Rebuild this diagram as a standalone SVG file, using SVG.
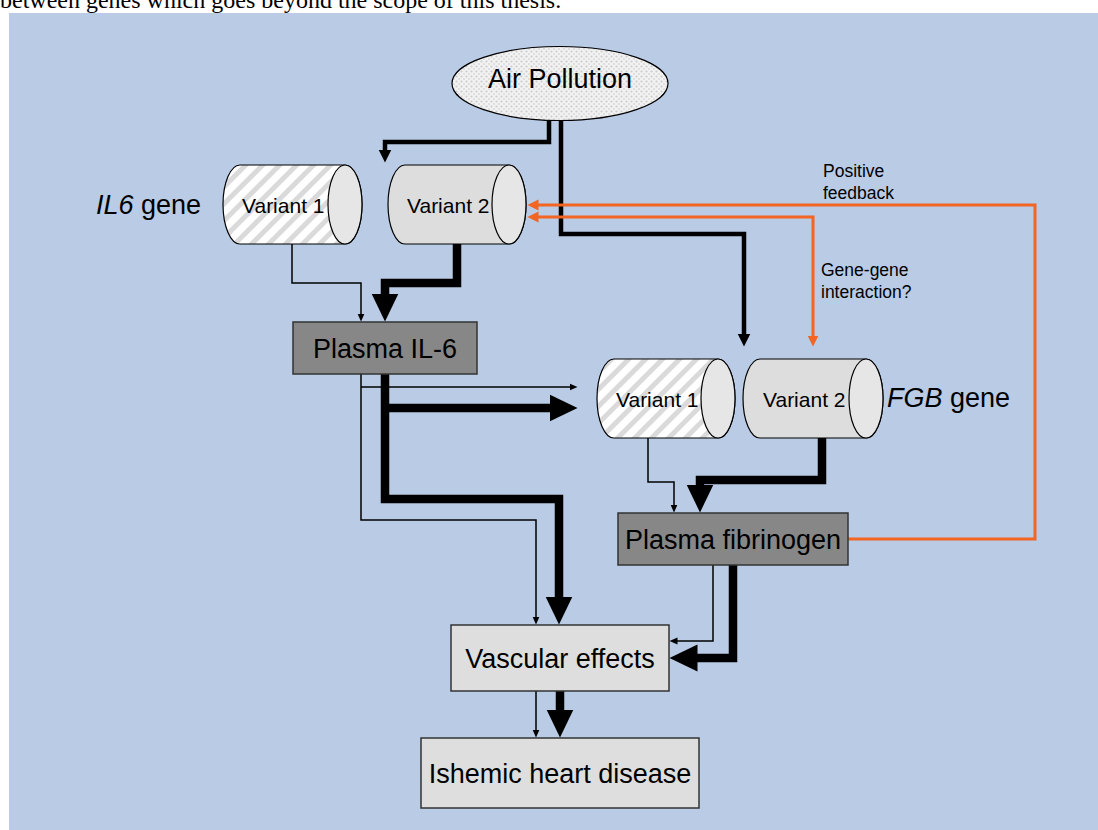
<svg xmlns="http://www.w3.org/2000/svg" width="1098" height="830" viewBox="0 0 1098 830">
<style>
.lbl{font-family:"Liberation Sans",Arial,sans-serif;fill:#000}
.big{font-size:27px}
.var{font-size:21px}
.small{font-size:17.5px}
.cyl{stroke:#000;stroke-width:1.2}
.cap{fill:#E6E6E6;stroke:#000;stroke-width:1.2}
.box{stroke:#333;stroke-width:1.5}
.k{fill:none;stroke:#000;stroke-linejoin:miter}
.thin{stroke-width:1.5}
.med{stroke-width:4.5}
.thick{stroke-width:8.5}
.or{fill:none;stroke:#F26522;stroke-width:3}
</style>
<defs>
<pattern id="hatch" width="12" height="12" patternUnits="userSpaceOnUse" patternTransform="rotate(45)">
<rect width="12" height="12" fill="#FFFFFF"/>
<rect x="0" y="0" width="5" height="12" fill="#DADADA"/>
</pattern>
<pattern id="dots" width="5" height="5" patternUnits="userSpaceOnUse">
<rect width="5" height="5" fill="#F2F2F2"/>
<circle cx="1.5" cy="1.5" r="1.1" fill="#CCCCCC"/>
<circle cx="4" cy="4" r="0.9" fill="#D6D6D6"/>
</pattern>
<marker id="aThin" markerUnits="userSpaceOnUse" markerWidth="10" markerHeight="10" viewBox="0 -5 10 10" refX="0.5" refY="0" orient="auto">
<path d="M0,-3.5 L8,0 L0,3.5 Z" fill="#000"/>
</marker>
<marker id="aMed" markerUnits="userSpaceOnUse" markerWidth="16" markerHeight="16" viewBox="0 -8 16 16" refX="0.5" refY="0" orient="auto">
<path d="M0,-6.5 L13,0 L0,6.5 Z" fill="#000"/>
</marker>
<marker id="aThick" markerUnits="userSpaceOnUse" markerWidth="30" markerHeight="30" viewBox="0 -15 30 30" refX="0.5" refY="0" orient="auto">
<path d="M0,-13.5 L28,0 L0,13.5 Z" fill="#000"/>
</marker>
<marker id="aOr" markerUnits="userSpaceOnUse" markerWidth="14" markerHeight="14" viewBox="0 -7 14 14" refX="0.5" refY="0" orient="auto-start-reverse">
<path d="M0,-5.5 L11,0 L0,5.5 Z" fill="#F26522"/>
</marker>
</defs>

<text x="0" y="8" style="font-family:'Liberation Serif','Times New Roman',serif;font-size:24px" fill="#000">between genes which goes beyond the scope of this thesis.</text>
<rect x="9" y="13" width="1089" height="817" fill="#B9CBE5"/>

<g id="connectors">
<path class="k med" d="M549,120 V142 H385 V150" marker-end="url(#aMed)"/>
<path class="k med" d="M561,120 V234 H744 V334" marker-end="url(#aMed)"/>
<path class="or" d="M848,539 H1035 V205 H538" marker-end="url(#aOr)"/>
<path class="or" d="M538,217 H813 V336" marker-start="url(#aOr)" marker-end="url(#aOr)"/>
<path class="k thin" d="M292,244 V283 H361 V314" marker-end="url(#aThin)"/>
<path class="k thick" d="M457,244 V283 H385 V294" marker-end="url(#aThick)"/>
<path class="k thin" d="M361,387 H570" marker-end="url(#aThin)"/>
<path class="k thin" d="M361,374 V520 H536 V617" marker-end="url(#aThin)"/>
<path class="k thick" d="M385,408 H550" marker-end="url(#aThick)"/>
<path class="k thick" d="M385,374 V499 H559 V597" marker-end="url(#aThick)"/>
<path class="k thin" d="M648,438 V482 H674 V505" marker-end="url(#aThin)"/>
<path class="k thick" d="M822,438 V480 H700 V485" marker-end="url(#aThick)"/>
<path class="k thin" d="M713,565 V641 H677" marker-end="url(#aThin)"/>
<path class="k thick" d="M733,565 V658 H697" marker-end="url(#aThick)"/>
<path class="k thin" d="M536,691 V730" marker-end="url(#aThin)"/>
<path class="k thick" d="M560,691 V710" marker-end="url(#aThick)"/>
</g>

<g id="air-pollution">
<ellipse cx="560" cy="83.5" rx="108" ry="37" fill="url(#dots)" stroke="#000" stroke-width="1.2"/>
<text class="lbl big" x="560" y="88" text-anchor="middle">Air Pollution</text>
</g>

<g id="il6-label">
<text class="lbl big" x="96" y="214"><tspan font-style="italic">IL6</tspan> gene</text>
</g>

<g id="il6-variant1">
<path class="cyl" fill="url(#hatch)" d="M240,165 H345 A17,39.5 0 0 1 345,244 H240 A17,39.5 0 0 1 240,165 Z"/>
<text class="lbl var" x="242" y="213">Variant 1</text>
<ellipse class="cap" cx="345" cy="204.5" rx="17" ry="39.5"/>
</g>

<g id="il6-variant2">
<path class="cyl" fill="#DDDDDD" d="M405,165 H509 A17,39.5 0 0 1 509,244 H405 A17,39.5 0 0 1 405,165 Z"/>
<text class="lbl var" x="407" y="213">Variant 2</text>
<ellipse class="cap" cx="509" cy="204.5" rx="17" ry="39.5"/>
</g>

<g id="plasma-il6">
<rect class="box" x="293" y="322" width="184" height="52" fill="#878787"/>
<text class="lbl big" x="385" y="358" text-anchor="middle">Plasma IL-6</text>
</g>

<g id="fgb-variant1">
<path class="cyl" fill="url(#hatch)" d="M614,359 H718 A17,39.5 0 0 1 718,438 H614 A17,39.5 0 0 1 614,359 Z"/>
<text class="lbl var" x="616" y="407">Variant 1</text>
<ellipse class="cap" cx="718" cy="398.5" rx="17" ry="39.5"/>
</g>

<g id="fgb-variant2">
<path class="cyl" fill="#DDDDDD" d="M760,359 H866 A17,39.5 0 0 1 866,438 H760 A17,39.5 0 0 1 760,359 Z"/>
<text class="lbl var" x="763" y="407">Variant 2</text>
<ellipse class="cap" cx="866" cy="398.5" rx="17" ry="39.5"/>
</g>

<g id="fgb-label">
<text class="lbl big" x="887" y="407"><tspan font-style="italic">FGB</tspan> gene</text>
</g>

<g id="plasma-fibrinogen">
<rect class="box" x="618" y="513" width="230" height="52" fill="#878787"/>
<text class="lbl big" x="733" y="549" text-anchor="middle">Plasma fibrinogen</text>
</g>

<g id="vascular-effects">
<rect class="box" x="451" y="625" width="218" height="66" fill="#DEDEDE"/>
<text class="lbl big" x="560" y="668" text-anchor="middle">Vascular effects</text>
</g>

<g id="ishemic-heart-disease">
<rect class="box" x="421" y="738" width="278" height="70" fill="#DEDEDE"/>
<text class="lbl big" x="560" y="783" text-anchor="middle">Ishemic heart disease</text>
</g>

<g id="labels">
<text class="lbl small" x="823" y="177">Positive</text>
<text class="lbl small" x="823" y="199">feedback</text>
<text class="lbl small" x="821" y="276">Gene-gene</text>
<text class="lbl small" x="821" y="298">interaction?</text>
</g>
</svg>
